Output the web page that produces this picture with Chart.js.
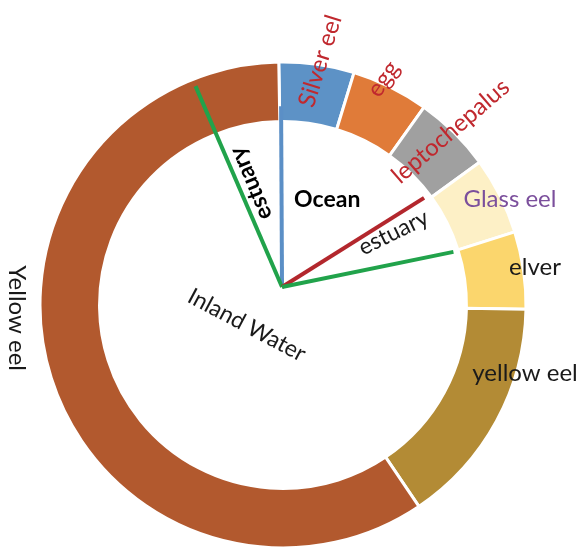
<!DOCTYPE html>
<html><head><meta charset="utf-8">
<script src="https://cdn.jsdelivr.net/npm/chart.js@4/dist/chart.umd.min.js"></script>
<style>html,body{margin:0;padding:0;background:#fff}</style>
</head><body>
<canvas id="c" width="580" height="554"></canvas>
<script>
// ---- data ----
const categories = ['Silver eel', 'egg', 'leptochepalus', 'Glass eel', 'elver', 'yellow eel', 'Yellow eel'];
const stageShare = [18, 18.5, 18.5, 18.5, 18.5, 55, 213];   // share of the life cycle (degrees of the ring)
const habitatNames = ['Ocean', 'estuary', 'estuary', 'Inland Water'];
// habitat divider lines: direction (deg clockwise from top) and length (fraction of outer radius)
const dividerAngles = [-0.3, -23.3, 57.9, 78.4];
const dividerLengths = [0.744, 0.90, 0.69, 0.72];

// ---- styles ----
const segmentColors = ['#5d92c6', '#e07b39', '#a0a0a0', '#fdf0c6', '#fbd66d', '#b38b35', '#b2592e'];
const dividerColors = ['#5b8fc6', '#21a34b', '#b3272d', '#21a34b'];
const FONT = 'Lato, "Open Sans", sans-serif';

// label layout relative to ring centre, in units of outer radius
const labelLayout = [
  {text: categories[0], fx: 0.153, fy: -1.004, rot: -72.5, color: '#c0282e', bold: false, size: 24},
  {text: categories[1], fx: 0.413, fy: -0.930, rot: -55, color: '#c0282e', bold: false, size: 24},
  {text: categories[2], fx: 0.690, fy: -0.715, rot: -40.7, color: '#c0282e', bold: false, size: 24},
  {text: categories[3], fx: 0.934, fy: -0.434, rot: 0, color: '#7b4f9c', bold: false, size: 24},
  {text: categories[4], fx: 1.037, fy: -0.157, rot: 0, color: '#1a1a1a', bold: false, size: 24},
  {text: categories[5], fx: 0.996, fy: 0.281, rot: 0, color: '#1a1a1a', bold: false, size: 24},
  {text: categories[6], fx: -1.095, fy: 0.054, rot: 90, color: '#1a1a1a', bold: false, size: 24},
  {text: habitatNames[0], fx: 0.182, fy: -0.434, rot: 0, color: '#000', bold: true, size: 23},
  {text: habitatNames[1], fx: 0.455, fy: -0.298, rot: -26, color: '#1a1a1a', bold: false, size: 23},
  {text: habitatNames[2], fx: -0.132, fy: -0.50, rot: -112.5, color: '#000', bold: true, size: 23},
  {text: habitatNames[3], fx: -0.149, fy: 0.083, rot: 28, color: '#1a1a1a', bold: false, size: 23}
];
const dividerOrigin = {fx: -0.004, fy: -0.074};

const overlay = {
  id: 'overlay',
  afterDatasetsDraw(chart) {
    const arc = chart.getDatasetMeta(0).data[0];
    const cx = arc.x, cy = arc.y, R = arc.outerRadius;
    const ctx = chart.ctx;
    const ox = cx + dividerOrigin.fx * R, oy = cy + dividerOrigin.fy * R;
    ctx.save();
    ctx.lineCap = 'butt';
    dividerAngles.forEach((a, i) => {
      const t = a * Math.PI / 180, L = dividerLengths[i] * R;
      ctx.beginPath();
      ctx.moveTo(ox, oy);
      ctx.lineTo(ox + Math.sin(t) * L, oy - Math.cos(t) * L);
      ctx.strokeStyle = dividerColors[i];
      ctx.lineWidth = 4;
      ctx.stroke();
    });
    ctx.textAlign = 'center';
    ctx.textBaseline = 'middle';
    labelLayout.forEach(l => {
      ctx.save();
      ctx.translate(cx + l.fx * R, cy + l.fy * R);
      ctx.rotate(l.rot * Math.PI / 180);
      ctx.font = (l.bold ? 'bold ' : '') + l.size + 'px ' + FONT;
      ctx.fillStyle = l.color;
      ctx.fillText(l.text, 0, 0);
      ctx.restore();
    });
    ctx.restore();
  }
};

new Chart(document.getElementById('c'), {
  type: 'doughnut',
  data: {
    labels: categories,
    datasets: [{
      data: stageShare,
      backgroundColor: segmentColors,
      borderColor: '#ffffff',
      borderWidth: 3,
      hoverOffset: 0
    }]
  },
  options: {
    responsive: false,
    animation: false,
    rotation: -1,
    circumference: 360,
    radius: 243,
    cutout: '75.5%',
    layout: {padding: {left: 0, right: 14, top: 56, bottom: 0}},
    plugins: {legend: {display: false}, tooltip: {enabled: false}},
    events: []
  },
  plugins: [overlay]
});
</script>
</body></html>
